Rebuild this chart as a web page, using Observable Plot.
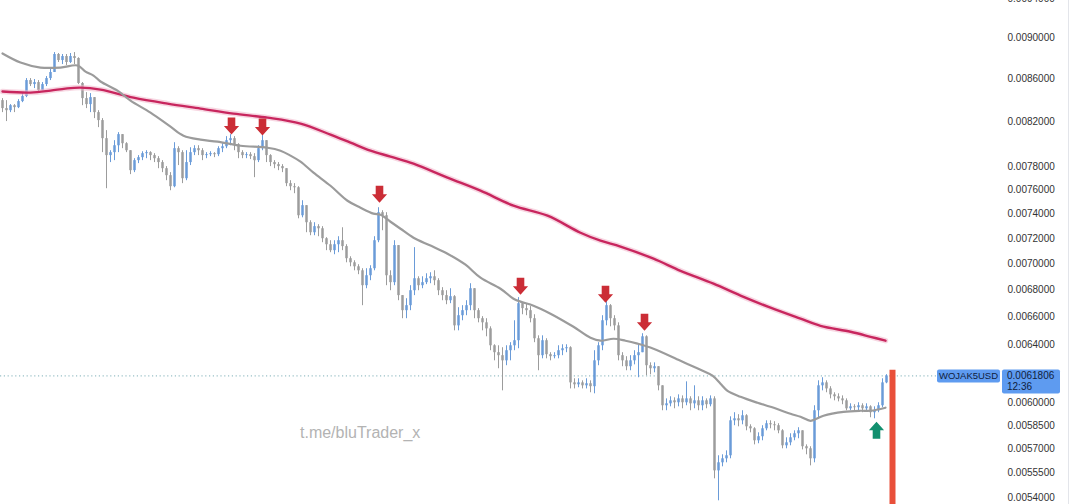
<!DOCTYPE html>
<html><head><meta charset="utf-8">
<script src="https://cdn.jsdelivr.net/npm/d3@7"></script>
<script src="https://cdn.jsdelivr.net/npm/@observablehq/plot@0.6"></script>
<style>
html,body{margin:0;padding:0;background:#fff;}
#chart{position:relative;width:1071px;height:504px;overflow:hidden;}
</style></head><body><div id="chart"></div>
<script>
// Prices are in units of 0.0001 USD
const UNIT = 1e-4;
const symbolName = "WOJAK5USD";
const lastPriceText = "0.0061806";
const countdownText = "12:36";
const watermark = "t.me/bluTrader_x";
const firstOpen = 83.91;
const close = [
 83.17, 82.98, 83.44, 83.26, 83.82, 84.29, 85.80, 85.42, 85.61, 84.85,
 85.42, 85.99, 86.57, 88.32, 87.73, 88.12, 87.54, 88.12, 87.93, 85.52,
 84.10, 83.54, 84.19, 82.80, 82.07, 80.44, 78.94, 79.20, 79.81, 80.80,
 79.99, 79.37, 77.63, 78.50, 78.76, 79.11, 79.20, 78.94, 78.67, 78.33,
 77.80, 77.20, 76.26, 79.55, 79.20, 76.94, 78.33, 79.20, 79.55, 79.37,
 78.94, 79.02, 79.11, 79.02, 79.55, 79.72, 80.26, 80.44, 79.90, 79.20,
 78.94, 79.02, 78.85, 78.50, 79.55, 80.26, 78.94, 78.33, 78.15, 77.98,
 77.80, 76.52, 76.26, 76.17, 73.84, 74.67, 73.27, 72.46, 72.95, 72.78,
 71.98, 71.50, 71.03, 71.50, 71.82, 71.35, 70.40, 70.08, 69.77, 69.46,
 68.32, 69.08, 69.62, 71.82, 74.09, 73.84, 69.08, 68.55, 71.43, 67.57,
 66.45, 66.82, 67.94, 68.85, 68.32, 68.55, 68.85, 69.00, 68.70, 67.94,
 67.57, 67.19, 67.49, 65.34, 66.08, 66.45, 66.82, 68.09, 66.45, 65.86,
 65.56, 65.12, 63.91, 63.42, 63.21, 62.85, 63.56, 63.91, 64.27, 66.97,
 66.60, 66.45, 65.86, 64.41, 63.21, 64.27, 63.28, 63.14, 63.21, 63.56,
 63.70, 63.77, 61.33, 61.20, 61.33, 61.13, 61.27, 61.07, 62.85, 63.91,
 65.71, 66.82, 65.86, 65.34, 63.21, 62.85, 62.44, 62.85, 63.21, 63.42,
 64.55, 62.51, 62.30, 62.44, 61.13, 59.79, 59.92, 60.12, 59.99, 60.25,
 59.99, 60.25, 59.92, 60.12, 59.79, 60.12, 59.86, 60.25, 55.62, 56.12,
 56.37, 56.56, 58.80, 58.93, 58.80, 59.13, 58.41, 58.28, 57.51, 57.77,
 58.28, 58.61, 58.54, 58.48, 58.15, 57.19, 57.38, 57.70, 57.96, 58.15,
 57.13, 57.00, 56.37, 59.46, 61.13, 61.33, 60.92, 60.52, 60.39, 60.25,
 60.12, 59.59, 59.72, 59.66, 59.79, 59.59, 59.72, 59.33, 59.46, 59.79,
 61.33, 61.806];
const high = [
 84.10, 83.91, 83.54, 83.54, 84.00, 84.57, 85.99, 85.99, 85.90, 85.80,
 85.61, 86.18, 86.95, 88.51, 88.42, 88.32, 88.32, 88.42, 88.51, 88.00,
 85.61, 84.66, 84.57, 84.19, 82.98, 82.25, 81.16, 79.37, 80.26, 80.98,
 80.80, 80.08, 79.37, 78.67, 78.94, 79.28, 79.37, 79.28, 79.11, 78.85,
 78.50, 77.98, 77.46, 80.08, 79.72, 79.37, 79.37, 79.63, 79.81, 79.81,
 79.55, 79.20, 79.28, 79.20, 79.72, 79.99, 80.62, 80.80, 80.62, 79.99,
 79.37, 79.20, 79.20, 79.11, 79.81, 80.71, 80.26, 79.02, 78.50, 78.33,
 78.15, 77.80, 76.77, 76.52, 76.26, 75.08, 74.67, 73.43, 73.27, 73.11,
 72.95, 72.06, 71.82, 71.82, 72.14, 72.86, 71.50, 70.55, 70.24, 69.93,
 69.62, 69.62, 69.85, 72.14, 74.50, 74.25, 74.09, 69.46, 71.82, 71.43,
 67.57, 67.34, 68.32, 71.27, 69.00, 69.00, 69.23, 69.31, 69.46, 68.85,
 68.17, 67.94, 68.09, 67.57, 66.67, 66.82, 67.19, 68.47, 68.09, 66.60,
 66.01, 65.86, 65.27, 63.98, 63.91, 63.77, 63.91, 64.13, 65.71, 67.42,
 67.04, 66.97, 66.75, 66.15, 64.62, 64.62, 64.41, 63.42, 63.42, 63.91,
 63.98, 63.98, 63.84, 61.61, 61.61, 61.47, 61.61, 61.47, 63.56, 64.13,
 66.08, 67.19, 66.90, 66.08, 65.56, 63.42, 63.14, 63.21, 63.56, 64.06,
 64.77, 64.62, 62.71, 62.71, 62.44, 61.13, 60.25, 60.39, 60.32, 60.52,
 60.45, 61.40, 60.39, 61.13, 60.39, 60.39, 60.25, 60.45, 60.39, 56.56,
 56.62, 56.87, 59.06, 59.33, 59.20, 59.46, 59.20, 58.54, 58.35, 58.02,
 58.48, 58.80, 58.80, 58.74, 58.61, 58.22, 57.70, 57.96, 58.15, 58.35,
 58.15, 57.25, 57.13, 59.79, 61.47, 61.68, 61.47, 61.07, 60.66, 60.59,
 60.45, 60.25, 59.92, 59.86, 59.99, 59.92, 59.92, 59.79, 59.72, 59.99,
 61.61, 61.89];
const low = [
 82.80, 81.98, 82.80, 82.80, 83.17, 83.72, 84.19, 85.23, 85.04, 84.66,
 84.85, 85.23, 85.80, 86.57, 87.54, 87.34, 87.25, 87.44, 87.34, 85.42,
 83.44, 83.17, 82.80, 82.25, 81.43, 79.20, 76.09, 78.33, 78.50, 79.20,
 79.55, 79.20, 77.29, 77.46, 78.24, 78.50, 78.67, 78.50, 78.33, 77.80,
 77.46, 76.77, 75.92, 76.17, 78.07, 76.52, 76.77, 78.07, 78.94, 78.94,
 78.50, 78.67, 78.85, 78.76, 78.85, 79.20, 79.55, 79.81, 79.37, 78.67,
 78.67, 78.67, 78.59, 77.03, 78.33, 79.37, 78.33, 77.98, 77.80, 77.63,
 77.46, 76.26, 75.92, 75.67, 73.59, 73.67, 72.46, 72.22, 72.22, 72.14,
 71.66, 71.03, 70.87, 70.71, 70.87, 71.03, 70.08, 69.77, 69.46, 69.16,
 66.82, 68.09, 68.70, 69.46, 71.66, 72.62, 68.32, 67.94, 68.32, 67.19,
 65.86, 65.86, 66.45, 67.57, 67.94, 68.09, 68.40, 68.47, 68.32, 67.57,
 67.19, 66.89, 66.97, 64.98, 64.98, 65.71, 66.08, 66.45, 65.86, 65.56,
 64.98, 64.55, 63.56, 62.85, 62.30, 60.79, 62.51, 62.85, 63.56, 63.70,
 66.15, 66.08, 65.56, 64.13, 62.16, 62.99, 62.99, 62.85, 62.99, 62.99,
 63.21, 63.42, 60.92, 60.92, 61.00, 60.92, 60.92, 60.66, 60.59, 62.51,
 63.56, 65.34, 65.27, 64.98, 62.85, 62.44, 62.16, 62.16, 62.57, 61.68,
 63.42, 61.82, 61.88, 62.02, 60.79, 59.46, 59.46, 59.72, 59.59, 59.72,
 59.59, 59.79, 59.46, 59.59, 59.46, 59.46, 59.59, 59.72, 55.13, 53.80,
 55.87, 56.12, 56.37, 58.48, 58.41, 58.54, 58.15, 58.02, 57.25, 57.32,
 57.51, 58.15, 58.28, 58.15, 57.96, 57.00, 57.00, 57.19, 57.51, 57.64,
 56.93, 56.62, 55.93, 56.12, 58.93, 60.79, 60.66, 60.25, 60.12, 60.05,
 59.86, 59.46, 59.46, 59.39, 59.46, 59.33, 59.39, 59.00, 58.93, 59.33,
 59.66, 61.27];

// moving averages, read at candle indexes
const fastMaIdx = [0, 4.5, 9.5, 14.5, 18.75, 20.75, 22.75, 24.5, 28.75, 32, 37, 42, 45.25, 49.5, 53.75, 59.5, 66.25, 69.5, 72, 74.5, 77.75, 82, 86.25, 89.5, 92.75, 94.5, 97, 99.5, 102.75, 107, 111.25, 115.75, 119.5, 124.5, 127.75, 129.5, 132.75, 137, 142.75, 147, 149.5, 152.75, 155.75, 158.75, 162.75, 169.5, 174.5, 177.5, 179.5, 181.25, 184.5, 188.75, 192, 197, 199.5, 202, 203.5, 205.25, 210.25, 214.5, 217, 220.75];
const fastMaVal = [88.42, 87.54, 87.05, 87.05, 87.25, 86.66, 86.28, 85.71, 84.85, 83.91, 82.80, 81.52, 80.71, 80.35, 80.17, 79.81, 79.63, 79.37, 78.94, 78.41, 77.46, 76.34, 75.08, 74.50, 74.01, 73.92, 73.35, 72.78, 72.06, 71.43, 70.79, 69.93, 68.93, 68.09, 67.34, 67.12, 66.82, 66.23, 65.27, 64.48, 64.27, 64.41, 64.27, 64.06, 63.70, 62.85, 62.23, 61.82, 61.27, 60.79, 60.39, 59.99, 59.72, 59.26, 59.06, 58.80, 58.93, 59.13, 59.39, 59.46, 59.46, 59.66];
const slowMaIdx = [0, 7, 12, 15.75, 19.5, 24.5, 32.75, 41.25, 49.5, 57.75, 66.25, 74.5, 82, 87, 92, 97, 102.75, 111.25, 119.5, 127.75, 136.25, 144.5, 149.5, 154.5, 162.75, 169.5, 177.75, 184.5, 192, 199.5, 204.5, 212, 217, 220.75];
const slowMaVal = [84.76, 84.66, 84.85, 85.04, 85.13, 84.94, 84.19, 83.63, 83.17, 82.71, 82.34, 81.80, 80.80, 80.08, 79.37, 78.85, 78.24, 77.03, 75.92, 74.67, 73.84, 72.46, 71.82, 71.35, 70.40, 69.46, 68.47, 67.57, 66.67, 65.86, 65.34, 64.91, 64.55, 64.27];

// signal arrows
const sellIdx = [57.25, 65, 94.25, 129.5, 150.75, 160.5];
const sellPrice = [81.57, 81.48, 75.63, 68.28, 67.68, 65.60];
const buyIdx = [218.5];
const buyPrice = [58.18];

const yTicks = [94, 90, 86, 82, 78, 76, 74, 72, 70, 68, 66, 64, 60, 58.5, 57, 55.5, 54];
const yDomain = [53.58, 93.78];
const markerIdx = 222.5;      // red session marker
const markerTop = 62.2;

const rows = close.map((c, i) => ({
  i, o: (i === 0 ? firstOpen : close[i - 1]) * UNIT, c: c * UNIT, h: high[i] * UNIT, l: low[i] * UNIT
}));
const upRows = rows.filter(r => r.c >= r.o);
const downRows = rows.filter(r => r.c < r.o);
const fastMa = fastMaIdx.map((x, k) => ({x, y: fastMaVal[k] * UNIT}));
const slowMa = slowMaIdx.map((x, k) => ({x, y: slowMaVal[k] * UNIT}));
const sells = sellIdx.map((x, k) => ({x, y: sellPrice[k] * UNIT}));
const buys = buyIdx.map((x, k) => ({x, y: buyPrice[k] * UNIT}));
const last = close[close.length - 1] * UNIT;

const UP = "#6a9bd8", DOWN = "#9c9c9c";
const arrowDown = {draw(ctx) {
  ctx.moveTo(-3.8, -8.5); ctx.lineTo(3.8, -8.5); ctx.lineTo(3.8, 0); ctx.lineTo(7.6, 0);
  ctx.lineTo(0, 8.5); ctx.lineTo(-7.6, 0); ctx.lineTo(-3.8, 0); ctx.closePath();
}};
const arrowUp = {draw(ctx) {
  ctx.moveTo(-3.8, 8.5); ctx.lineTo(3.8, 8.5); ctx.lineTo(3.8, 0); ctx.lineTo(7.6, 0);
  ctx.lineTo(0, -8.5); ctx.lineTo(-7.6, 0); ctx.lineTo(-3.8, 0); ctx.closePath();
}};

const plot = Plot.plot({
  width: 1071, height: 504,
  marginTop: 0, marginBottom: 0, marginLeft: 0, marginRight: 71,
  style: {fontFamily: "'Liberation Sans', Arial, sans-serif", background: "transparent", overflow: "hidden"},
  x: {type: "linear", domain: [0, close.length - 1], range: [2, 886], axis: null},
  y: {type: "log", domain: yDomain.map(v => v * UNIT), axis: null},
  marks: [
    Plot.ruleY([last], {stroke: "#7fb0b8", strokeDasharray: "1.2,2.6", strokeWidth: 1}),
    Plot.ruleX(downRows, {x: "i", y1: "l", y2: "h", stroke: DOWN, strokeWidth: 1}),
    Plot.ruleX(downRows, {x: "i", y1: "o", y2: "c", stroke: DOWN, strokeWidth: 2.5}),
    Plot.ruleX(upRows, {x: "i", y1: "l", y2: "h", stroke: UP, strokeWidth: 1}),
    Plot.ruleX(upRows, {x: "i", y1: "o", y2: "c", stroke: UP, strokeWidth: 2.5}),
    Plot.line(slowMa, {x: "x", y: "y", curve: "catmull-rom", stroke: "#f1b6cb", strokeWidth: 5.5, strokeOpacity: 0.55}),
    Plot.line(slowMa, {x: "x", y: "y", curve: "catmull-rom", stroke: "#c8265e", strokeWidth: 2.4}),
    Plot.line(fastMa, {x: "x", y: "y", curve: "catmull-rom", stroke: "#9b9b9b", strokeWidth: 2.2}),
    Plot.ruleX([markerIdx], {y1: yDomain[0] * UNIT, y2: markerTop * UNIT, stroke: "#e9503a", strokeWidth: 6}),
    Plot.dot(sells, {x: "x", y: "y", symbol: arrowDown, fill: "#cb2d36", stroke: null, r: 7}),
    Plot.dot(buys, {x: "x", y: "y", symbol: arrowUp, fill: "#12906f", stroke: null, r: 7}),
    Plot.axisY({anchor: "right", ticks: yTicks.map(v => v * UNIT), tickFormat: v => v.toFixed(7),
      tickSize: 0, tickPadding: 7, fontSize: 10, color: "#333", textAnchor: "start"})
  ]
});

const svg = d3.select(plot);
const yS = plot.scale("y");
const yl = yS.apply(last);
const FONT = "'Liberation Sans', Arial, sans-serif";
function addText(parent, x, y, size, fill, anchor, str) {
  return parent.append("text").attr("x", x).attr("y", y)
    .style("font-family", FONT).style("font-size", size + "px").style("fill", fill)
    .style("text-anchor", anchor).text(str);
}
// right pane border
svg.append("line").attr("x1", 1068.5).attr("x2", 1068.5).attr("y1", 0).attr("y2", 504).attr("stroke", "#e3e5ea");
// watermark
addText(svg, 300, 438, 16, "#b3b3b3", "start", watermark);
// symbol and last price labels
const g = svg.append("g");
g.append("rect").attr("x", 937).attr("y", yl - 6).attr("width", 63).attr("height", 13).attr("rx", 2).attr("fill", "#5e9bf0");
addText(g, 968.5, yl + 4, 9.5, "#10213d", "middle", symbolName);
g.append("rect").attr("x", 1002).attr("y", yl - 6).attr("width", 58).attr("height", 24).attr("rx", 2).attr("fill", "#5e9bf0");
addText(g, 1007, yl + 4, 10, "#10213d", "start", lastPriceText);
addText(g, 1007, yl + 15, 10, "#10213d", "start", countdownText);

document.getElementById("chart").appendChild(plot);
</script></body></html>
